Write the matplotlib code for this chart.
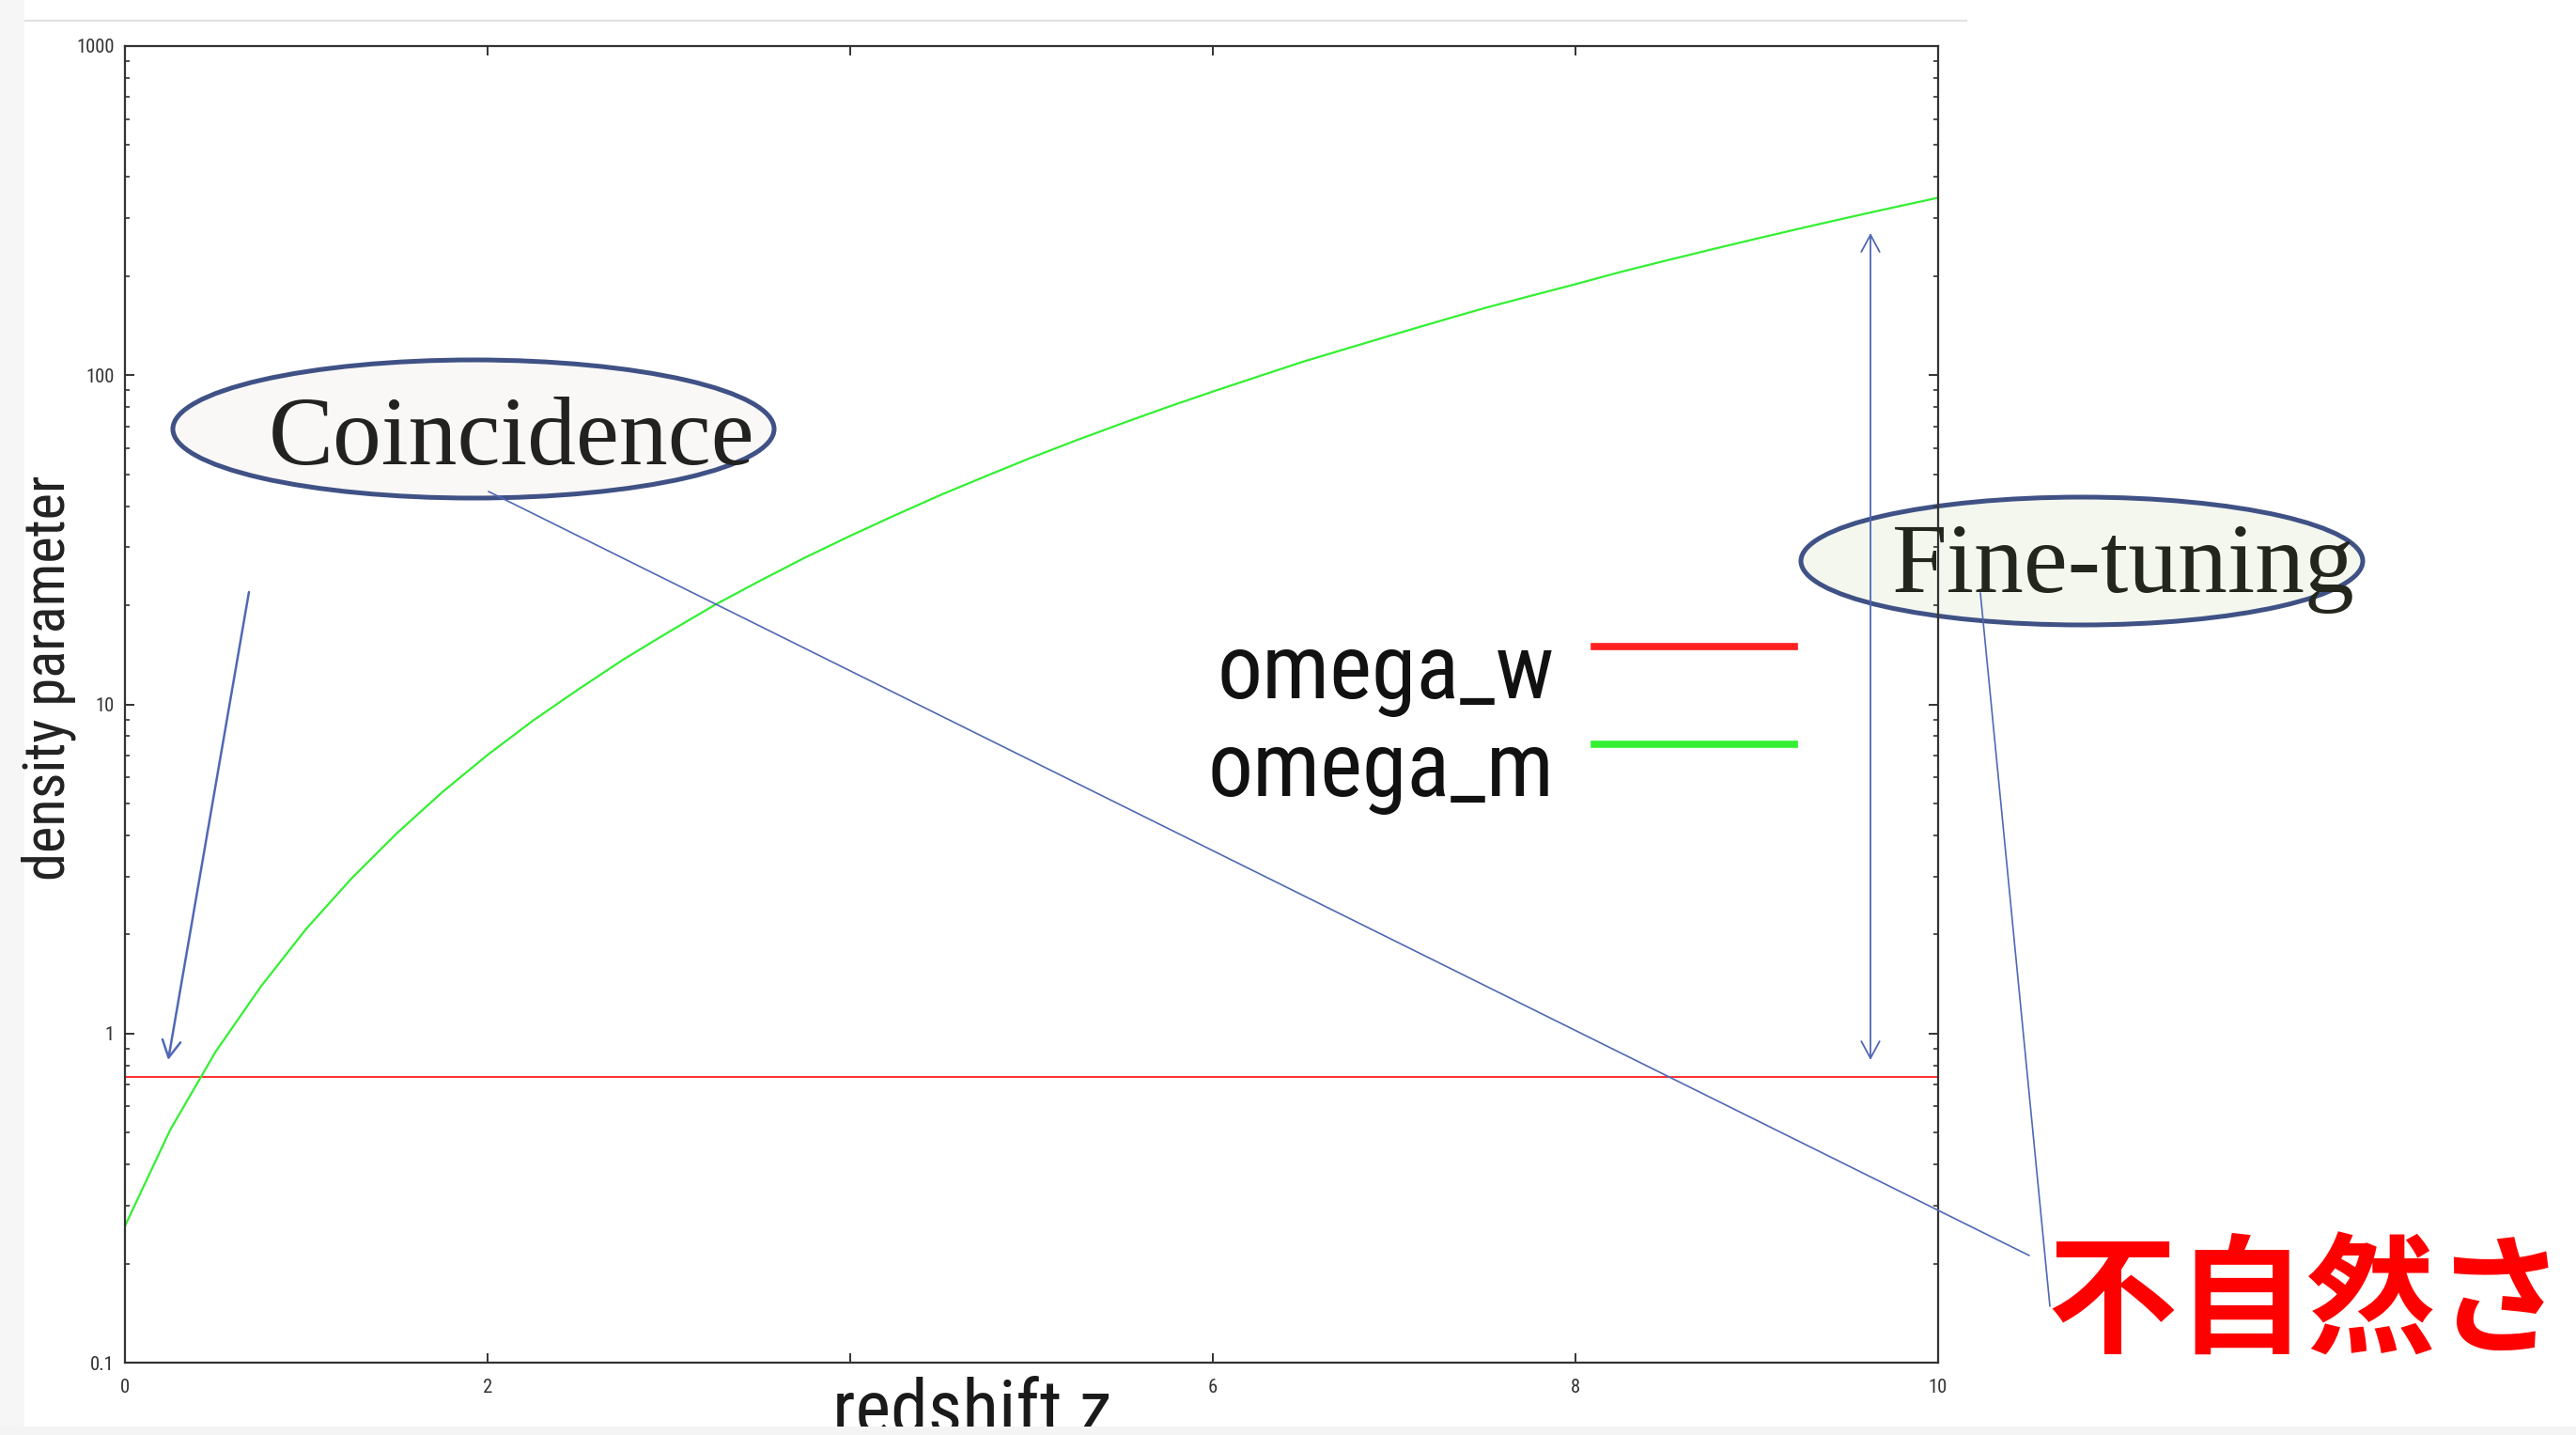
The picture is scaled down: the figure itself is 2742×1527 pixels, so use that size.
import os
import numpy as np
import matplotlib
matplotlib.use('Agg')
import matplotlib.pyplot as plt
from matplotlib import font_manager as fm
from matplotlib.font_manager import FontProperties
from matplotlib.patches import Ellipse, FancyArrowPatch, Rectangle
from matplotlib.lines import Line2D
from matplotlib.ticker import LogLocator, NullFormatter

# ---------------- data ----------------
Z = [0, 0.25, 0.5, 0.75, 1, 1.25, 1.5, 1.75, 2, 2.25, 2.5, 2.75, 3, 3.25, 3.5,
     3.75, 4, 4.25, 4.5, 4.75, 5, 5.25, 5.5, 5.75, 6, 6.25, 6.5, 6.75, 7, 7.25,
     7.5, 7.75, 8, 8.25, 8.5, 8.75, 9, 9.25, 9.5, 9.75, 10]
OMEGA_M = [0.26, 0.51, 0.88, 1.39, 2.08, 2.96, 4.06, 5.41, 7.02, 8.92, 11.1,
           13.7, 16.6, 20.0, 23.7, 27.9, 32.5, 37.6, 43.3, 49.4, 56.2, 63.5,
           71.4, 80.0, 89.2, 99.1, 110, 121, 133, 146, 160, 174, 189, 206, 223,
           241, 260, 280, 301, 323, 346]
Z_W = [0, 10]
OMEGA_W = [0.74, 0.74]
SERIES_LABELS = ['omega_w', 'omega_m']
XTICKS = [0, 2, 4, 6, 8, 10]
XTICK_LABELS = ['0', '2', '', '6', '8', '10']
YTICKS = [0.1, 1, 10, 100, 1000]
YTICK_LABELS = ['0.1', '1', '10', '100', '1000']
XLABEL = 'redshift z'
YLABEL = 'density parameter'
NOTE_COINCIDENCE = 'Coincidence'
NOTE_FINETUNING = 'Fine-tuning'
NOTE_UNNATURAL = '不自然さ'

# ---------------- setup ----------------
W, H = 2742, 1527
DPI = 100
avail = {f.name for f in fm.fontManager.ttflist}


def pick(*names):
    for n in names:
        if n in avail:
            return n
    return 'DejaVu Sans'


def condensed_path():
    prefs = ['liberationsansnarrow-regular', 'liberationsansnarrow',
             'robotocondensed-regular', 'dejavusanscondensed.',
             'opensans_condensed-regular', 'notosans-condensed.']
    files = {}
    for f in fm.fontManager.ttflist:
        files[os.path.basename(f.fname).lower()] = f.fname
    for p in prefs:
        for b, path in files.items():
            if b.startswith(p) and 'bold' not in b and 'italic' not in b:
                return path
    return None


CPATH = condensed_path()


def narrow_fp(size=100):
    if CPATH:
        return FontProperties(fname=CPATH, size=size)
    return FontProperties(family=pick('Liberation Sans', 'Arimo', 'DejaVu Sans'), size=size)


SERIF = pick('Liberation Serif', 'DejaVu Serif')
CJK = pick('Noto Sans CJK JP', 'Noto Sans CJK SC')

GREEN = '#33f033'
RED = '#ff2020'
NAVY = '#3f5185'
ARROW = '#5068b4'
AXC = '#333333'

fig = plt.figure(figsize=(W / DPI, H / DPI), dpi=DPI, facecolor='white')
renderer = fig.canvas.get_renderer()


def meas(s, fp):
    w, h, d = renderer.get_text_width_height_descent(s, fp, ismath=False)
    return w, h, d


def pt_for_width(s, fp, target_px):
    fp = fp.copy()
    fp.set_size(100)
    w, h, d = meas(s, fp)
    return 100.0 * target_px / w


def pt_for_height(s, fp, target_px):
    fp = fp.copy()
    fp.set_size(100)
    w, h, d = meas(s, fp)
    return 100.0 * target_px / (h - d)


def F(x, y):
    return (x / W, 1 - y / H)


# ---------------- axes ----------------
L, R, T, B = 133, 2063, 49, 1450
ax = fig.add_axes([L / W, 1 - B / H, (R - L) / W, (B - T) / H])
ax.set_zorder(1)
ax.patch.set_visible(False)

h_w, = ax.plot(Z_W, OMEGA_W, color=RED, lw=1.3, label=SERIES_LABELS[0])
h_m, = ax.plot(Z, OMEGA_M, color=GREEN, lw=1.6, label=SERIES_LABELS[1])

ax.set_yscale('log')
ax.set_xlim(0, 10)
ax.set_ylim(0.1, 1000)
ax.set_xticks(XTICKS)
ax.set_xticklabels(XTICK_LABELS)
ax.set_yticks(YTICKS)
ax.set_yticklabels(YTICK_LABELS)
ax.yaxis.set_minor_locator(LogLocator(base=10, subs=np.arange(2, 10)))
ax.yaxis.set_minor_formatter(NullFormatter())

for s in ax.spines.values():
    s.set_color(AXC)
    s.set_linewidth(1.6)

base = narrow_fp()
tick_fs = pt_for_height('0', base, 15)
ax.tick_params(which='both', direction='in', top=True, right=True, colors=AXC)
ax.tick_params(which='major', length=7, width=1.4)
ax.tick_params(which='minor', length=3.5, width=1.2)
ax.tick_params(axis='x', which='major', pad=12)
ax.tick_params(axis='y', which='major', pad=8)
tfp = narrow_fp(tick_fs)
for lab in ax.get_xticklabels() + ax.get_yticklabels():
    lab.set_fontproperties(tfp)

# size boost so that glyph heights approach the (vertically stretched) original
leg_w = pt_for_width('omega_w', base, 357)
leg_h = pt_for_height('x', base, 51)
boost = min(max(leg_h / leg_w, 1.0), 1.12)

# axis labels
xl_fp = narrow_fp(pt_for_width(XLABEL, base, 296) * boost)
ax.set_xlabel(XLABEL, fontproperties=xl_fp, color='#1a1a1a')
ax.xaxis.set_label_coords((1035 - L) / (R - L), (B - 1465) / (B - T))

yl_fp = narrow_fp(pt_for_width(YLABEL, base, 429) * boost)
ax.set_ylabel(YLABEL, fontproperties=yl_fp, color='#222222')
ax.yaxis.set_label_coords((81 - L) / (R - L), (B - 721.5) / (B - T))

# ---------------- legend ----------------
leg_fs = leg_w * boost
leg_px = leg_fs * DPI / 72.0
fp = narrow_fp(leg_fs)
lw_, lh_, ld_ = meas('lp', fp)
wmax = max(meas(s, fp)[0] for s in SERIES_LABELS)
row_pitch = 104.0
top_y = 743 - (lh_ - ld_)
pad_px = max(1697 - (1286 + wmax), 10)
leg = ax.legend([h_w, h_m], SERIES_LABELS, loc='upper left',
                bbox_to_anchor=F(1286, top_y), bbox_transform=fig.transFigure,
                frameon=False, markerfirst=False, prop=fp,
                handlelength=213 / leg_px, handletextpad=pad_px / leg_px,
                labelspacing=(row_pitch - lh_) / leg_px,
                borderpad=0, borderaxespad=0)
dy_pt = (55 - 0.35 * leg_px) * 72.0 / DPI
for ln in leg.get_lines():
    ln.set_linewidth(5.5)
    ln.set_ydata(np.asarray(ln.get_ydata()) + dy_pt)
for t in leg.get_texts():
    t.set_color('#111111')

# ---------------- background frame bits ----------------
fig.patches.append(Rectangle((0, 0), 26 / W, 1, transform=fig.transFigure,
                             facecolor='#f6f6f6', edgecolor='none', zorder=0))
fig.lines.append(Line2D([26 / W, 2093 / W], [1 - 22 / H, 1 - 22 / H],
                        transform=fig.transFigure, color='#e2e2e2', lw=1.6, zorder=0))

# ---------------- ellipses ----------------
e1 = Ellipse(F(504, 456.5), 640 / W, 147 / H, transform=fig.transFigure,
             facecolor='#f9f8f6', edgecolor=NAVY, lw=3.6, zorder=0.5)
e2 = Ellipse(F(2216, 597), 598 / W, 136 / H, transform=fig.transFigure,
             facecolor='#f3f7ee', edgecolor=NAVY, lw=3.6, zorder=0.5)
fig.patches.extend([e1, e2])

sfp = FontProperties(family=SERIF)
c_fs = pt_for_width(NOTE_COINCIDENCE, sfp, 517)
fig.text(*F(545, 494), NOTE_COINCIDENCE, fontsize=c_fs, family=SERIF,
         color='#222220', ha='center', va='baseline', zorder=6)
f_fs = pt_for_width(NOTE_FINETUNING, sfp, 493)
fig.text(*F(2260, 630), NOTE_FINETUNING, fontsize=f_fs, family=SERIF,
         color='#23261d', ha='center', va='baseline', zorder=6)

cfp = FontProperties(family=[CJK, 'DejaVu Sans'], weight='bold')
u_fs = pt_for_width(NOTE_UNNATURAL, cfp, 551)
fig.text(*F(2455, 1390), NOTE_UNNATURAL, fontsize=u_fs, family=[CJK, 'DejaVu Sans'],
         fontweight='bold', color='#ff0000', ha='center', va='center', zorder=6)


# ---------------- arrows / lines ----------------
def arrow(p0, p1, style, lw):
    a = FancyArrowPatch(F(*p0), F(*p1), transform=fig.transFigure, arrowstyle=style,
                        mutation_scale=1, shrinkA=0, shrinkB=0, color=ARROW, lw=lw,
                        zorder=5)
    fig.patches.append(a)


arrow((265, 630), (179, 1128), '->,head_length=13,head_width=7', 1.8)
arrow((1991, 1128), (1991, 248), '<->,head_length=13,head_width=7', 1.3)
arrow((520, 523), (2160, 1336), '-', 1.2)
arrow((2108, 631), (2182, 1390), '-', 1.2)

# bottom strip covering the cut-off axis label
fig.patches.append(Rectangle((0, 0), 1, 9 / H, transform=fig.transFigure,
                             facecolor='#f4f4f4', edgecolor='none', zorder=20))

fig.savefig('out.png', dpi=DPI, facecolor='white')
